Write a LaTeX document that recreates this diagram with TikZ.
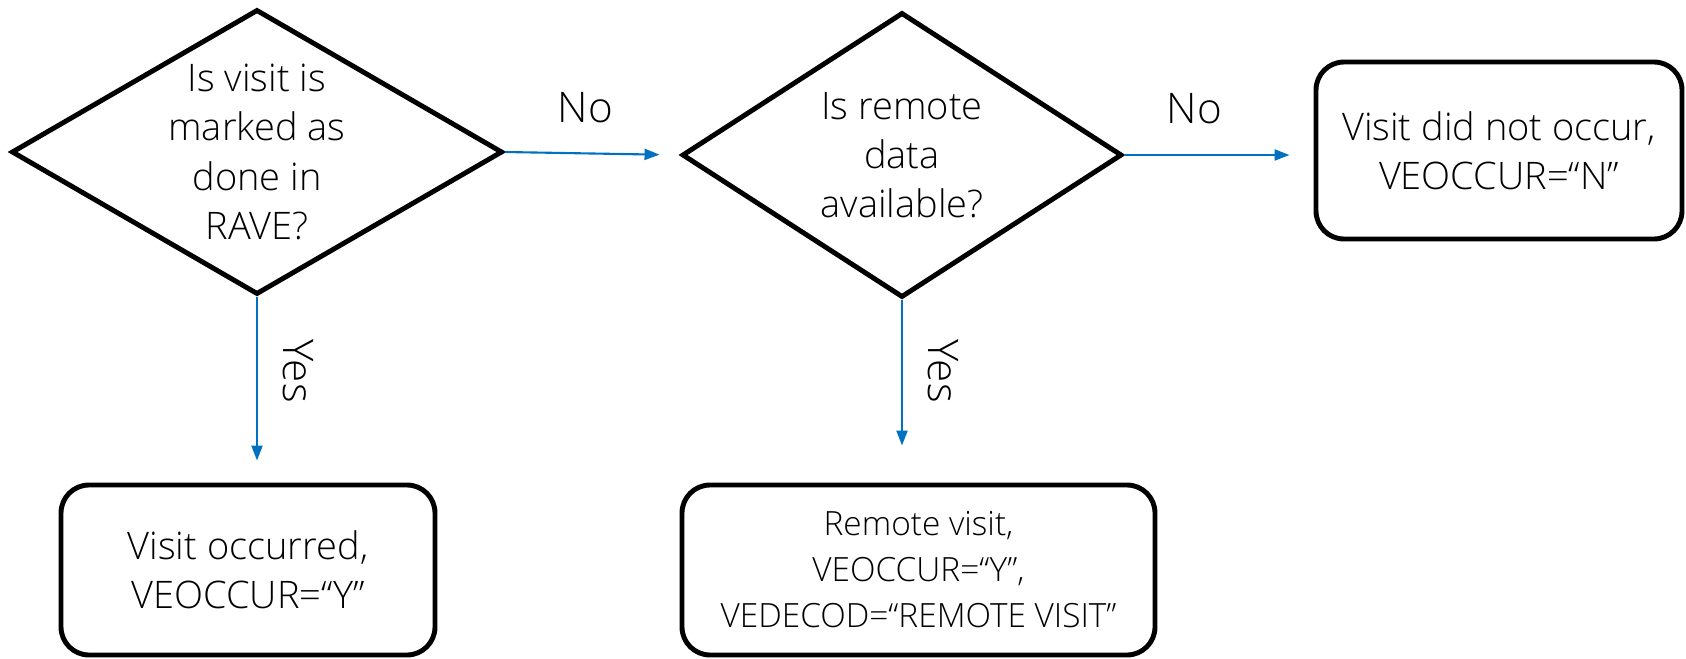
\documentclass[tikz,border=0pt]{standalone}
\usepackage{fontspec}
\setmainfont{Open Sans Light}
\usetikzlibrary{shapes.geometric,arrows.meta}

\definecolor{flowblue}{HTML}{0070C0}

\tikzset{
  question/.style={diamond, draw, line width=1.4pt, aspect=1.72, inner sep=0pt,
    align=center, font=\fontsize{10.8}{14}\selectfont},
  outcome/.style={rectangle, draw, line width=1.4pt, rounded corners=0.28cm,
    inner sep=0pt, align=center, font=\fontsize{10.8}{14}\selectfont},
  flow/.style={draw=flowblue, line width=0.6pt,
    -{Triangle[length=1.5mm,width=1.1mm,fill=flowblue]}},
  answer/.style={font=\fontsize{12}{14}\selectfont}
}

\begin{document}
\begin{tikzpicture}
      \useasboundingbox (0,0) rectangle (16.86,-6.58);

      % 'done in RAVE'
      \node[question, minimum width=4.91cm, minimum height=2.85cm]
        at (2.57,-1.52) (rave) {Is visit is\\marked as\\done in\\RAVE?};

      % 'remote data'
      \node[question, minimum width=4.40cm, minimum height=2.85cm]
        at (9.02,-1.55) (remote) {Is remote\\data\\available?};

      % outcomes
      \node[outcome, minimum width=3.66cm, minimum height=1.77cm]
        at (14.99,-1.505) (notoccur) {Visit did not occur,\\VEOCCUR=“N”};

      \node[outcome, minimum width=3.74cm, minimum height=1.70cm]
        at (2.48,-5.70) (occur) {Visit occurred,\\VEOCCUR=“Y”};

      \node[outcome, minimum width=4.73cm, minimum height=1.70cm,
        font=\fontsize{9.5}{13.1}\selectfont]
        at (9.185,-5.70) (remotevisit)
        {Remote visit,\\VEOCCUR=“Y”,\\VEDECOD=“REMOTE VISIT”};

      % 'No'
      \draw[flow, shorten >=0.2cm] (rave.east) -- (remote.west)
        node[answer, pos=0.46, above=0.18cm] (no1) {No};

      \draw[flow, shorten >=0.24cm] (remote.east) -- (remote.east -| notoccur.west)
        node[answer, pos=0.37, above=0.18cm] (no2) {No};

      % 'Yes'
      \draw[flow, shorten >=0.22cm] (rave.south) -- (rave.south |- occur.north)
        node[answer, pos=0.4, rotate=-90, anchor=south, inner sep=7pt] (yes1) {Yes};

      \draw[flow, shorten >=0.37cm] (remote.south) -- (remote.south |- remotevisit.north)
        node[answer, pos=0.39, rotate=-90, anchor=south, inner sep=7pt] (yes2) {Yes};
    \end{tikzpicture}
\end{document}
